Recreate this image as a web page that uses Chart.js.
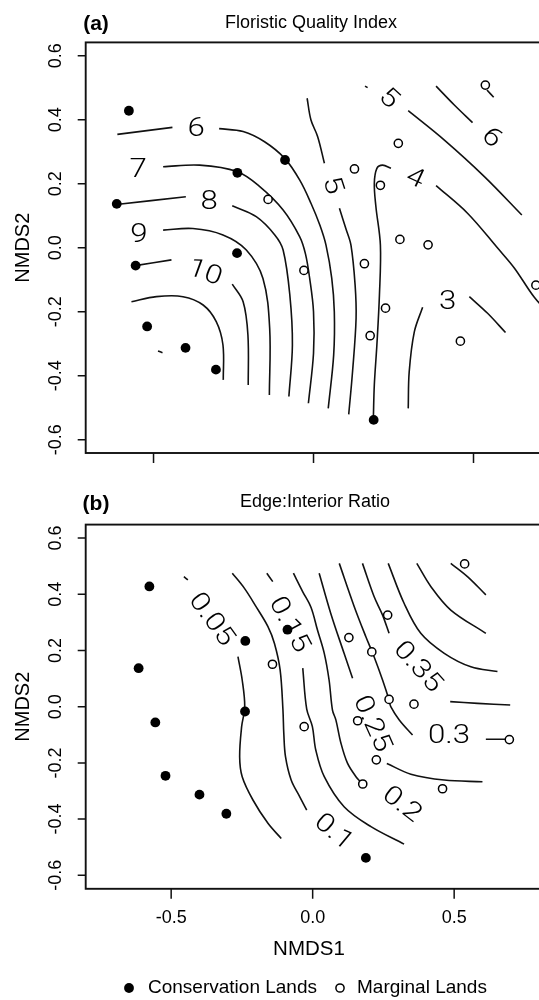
<!DOCTYPE html>
<html><head><meta charset="utf-8">
<script src="https://cdn.jsdelivr.net/npm/chart.js@4.4.0/dist/chart.umd.min.js"></script>
<style>
html,body{margin:0;padding:0;background:#fff;overflow:hidden;width:539px;height:1000px;position:relative;}
#ca{position:absolute;left:0;top:0;}
#cb{position:absolute;left:0;top:470px;}
</style></head><body>
<canvas id="ca" width="600" height="470"></canvas>
<canvas id="cb" width="600" height="530"></canvas>
<script>
// ---------- data ----------
const consX = [-0.577,-0.615,-0.238,-0.089,-0.239,-0.556,-0.520,-0.400,-0.305,0.188];
const consY = [0.428,0.137,0.234,0.274,-0.017,-0.056,-0.246,-0.313,-0.381,-0.538];
const margX = [-0.142,-0.030,0.265,0.128,0.209,0.270,0.358,0.537,0.159,0.225,0.177,0.459,0.695];
const margY = [0.151,-0.071,0.326,0.246,0.195,0.026,0.009,0.508,-0.050,-0.189,-0.275,-0.292,-0.117];
const yTicks = [-0.6,-0.4,-0.2,0.0,0.2,0.4,0.6];
const yTickLabels = ['-0.6','-0.4','-0.2','0.0','0.2','0.4','0.6'];
const xTicks = [-0.5,0.0,0.5];
const xTickLabels = ['-0.5','0.0','0.5'];
const seriesNames = ['Conservation Lands','Marginal Lands'];

// Floristic Quality Index contours (segments of [NMDS1, NMDS2])
const fqi3 = [[[0.296,-0.502],[0.299,-0.388],[0.315,-0.263],[0.341,-0.186]],
              [[0.487,-0.153],[0.544,-0.205],[0.600,-0.265]]];
const fqi4 = [[[0.187,-0.533],[0.190,-0.429],[0.198,-0.304],[0.206,-0.148],[0.209,0.008],[0.195,0.128],[0.190,0.201],[0.198,0.248],[0.216,0.258],[0.242,0.248]],
              [[0.383,0.194],[0.482,0.107],[0.576,-0.002],[0.628,-0.064],[0.690,-0.155],[0.75,-0.22]]];
const fqi5 = [[[-0.020,0.467],[-0.008,0.399],[0.013,0.347],[0.034,0.264]],
              [[0.081,0.123],[0.101,0.060],[0.117,0.008],[0.130,-0.117],[0.133,-0.221],[0.122,-0.387],[0.110,-0.521]],
              [[0.161,0.505],[0.169,0.500]],
              [[0.296,0.428],[0.409,0.336],[0.534,0.222],[0.651,0.102]]];
const fqi6 = [[[-0.613,0.354],[-0.441,0.376]],
              [[-0.295,0.372],[-0.220,0.363],[-0.153,0.331],[-0.090,0.279],[-0.043,0.211],[-0.008,0.139],[0.020,0.070],[0.039,0.008],[0.057,-0.096],[0.065,-0.200],[0.063,-0.335],[0.046,-0.502]],
              [[0.383,0.505],[0.440,0.446],[0.497,0.391]]];
const fqi7 = [[[-0.470,0.253],[-0.356,0.258],[-0.239,0.238],[-0.168,0.191],[-0.095,0.118],[-0.043,0.034],[-0.025,-0.020],[-0.012,-0.096],[0.000,-0.200],[0.000,-0.330],[-0.016,-0.486]],
              [[0.542,0.493],[0.563,0.470]]];
const fqi8 = [[[-0.616,0.135],[-0.399,0.159]],
              [[-0.254,0.131],[-0.179,0.097],[-0.121,0.040],[-0.095,-0.007],[-0.074,-0.148],[-0.066,-0.304],[-0.077,-0.465]]];
const fqi9 = [[[-0.470,0.055],[-0.377,0.060],[-0.283,0.040],[-0.210,-0.007],[-0.158,-0.096],[-0.137,-0.252],[-0.138,-0.460]]];
const fqi10 = [[[-0.557,-0.056],[-0.444,-0.038]],
               [[-0.254,-0.114],[-0.220,-0.169],[-0.205,-0.273],[-0.204,-0.429]]];
const fqi11 = [[[-0.569,-0.169],[-0.491,-0.153],[-0.408,-0.153],[-0.345,-0.179],[-0.304,-0.231],[-0.283,-0.304],[-0.282,-0.413]],
               [[-0.486,-0.323],[-0.472,-0.328]]];
const fqiLabelText = ['6','7','8','9','10','5','5','6','4','3'];
const fqiLabelX = [-0.367,-0.548,-0.326,-0.546,-0.340,0.057,0.234,0.555,0.317,0.419];
const fqiLabelY = [0.369,0.241,0.141,0.038,-0.080,0.194,0.465,0.342,0.215,-0.171];
const fqiLabelRot = [0,0,0,0,20,72,42,45,25,0];

// Edge:Interior Ratio contours
const eir05 = [[[-0.455,0.463],[-0.441,0.451]],
               [[-0.264,0.178],[-0.249,0.095],[-0.240,0.000],[-0.251,-0.071],[-0.258,-0.178],[-0.249,-0.249],[-0.211,-0.332],[-0.158,-0.415],[-0.111,-0.469]]];
const eir10 = [[[-0.284,0.475],[-0.241,0.421],[-0.200,0.356],[-0.158,0.285],[-0.135,0.225],[-0.115,0.131],[-0.105,-0.012],[-0.102,-0.095],[-0.096,-0.178],[-0.076,-0.261],[-0.046,-0.320],[-0.021,-0.368]]];
const eir15 = [[[-0.162,0.475],[-0.141,0.445]],
               [[-0.035,0.137],[-0.021,-0.009],[-0.001,-0.071],[0.011,-0.154],[0.041,-0.249],[0.111,-0.356],[0.206,-0.427],[0.323,-0.489]]];
const eir20 = [[[-0.068,0.475],[-0.035,0.409],[-0.006,0.354],[0.017,0.273],[0.041,0.190],[0.058,0.095],[0.070,-0.012],[0.082,-0.047],[0.100,-0.130],[0.123,-0.201],[0.153,-0.249],[0.176,-0.275]]];
const eir25 = [[[0.023,0.475],[0.064,0.332],[0.111,0.190],[0.141,0.101]],
               [[0.262,-0.202],[0.347,-0.240],[0.465,-0.261],[0.600,-0.267]]];
const eir30 = [[[0.094,0.510],[0.147,0.356],[0.188,0.249],[0.217,0.178],[0.247,0.095],[0.270,0.024],[0.276,0.000],[0.306,-0.047],[0.353,-0.101]],
               [[0.612,-0.116],[0.698,-0.116]]];
const eir35 = [[[0.176,0.510],[0.217,0.392],[0.247,0.326],[0.270,0.261]],
               [[0.486,0.018],[0.583,0.012],[0.698,0.006]]];
const eir40 = [[[0.267,0.510],[0.323,0.368],[0.382,0.261],[0.465,0.190],[0.559,0.142],[0.653,0.125]]];
const eir45 = [[[0.368,0.510],[0.418,0.427],[0.488,0.344],[0.612,0.261]]];
const eir50 = [[[0.488,0.510],[0.547,0.463],[0.612,0.398]]];
const eirLabelText = ['0.05','0.1','0.15','0.2','0.25','0.3','0.35'];
const eirLabelX = [-0.359,0.073,-0.085,0.314,0.208,0.482,0.370];
const eirLabelY = [0.309,-0.448,0.291,-0.350,-0.062,-0.107,0.140];
const eirLabelRot = [54,40,62,38,66,0,48];

// ---------- helpers ----------
const SANS = "'Liberation Sans', Arial, Helvetica, sans-serif";
const LABFONT = "300 26px Roboto, 'Liberation Sans', sans-serif";
const INK = '#111';
function txt(ctx, s, x, y, font, angle, align, sx){
  ctx.save(); ctx.font = font; ctx.translate(x, y); ctx.rotate((angle||0)*Math.PI/180);
  ctx.scale(sx||1, 1); ctx.textAlign = align||'center'; ctx.textBaseline = 'middle';
  ctx.fillText(s, 0, 0); ctx.restore();
}
function toPts(xs, ys){ return xs.map((v,i)=>({x:v, y:ys[i]})); }
function lineSets(levels){
  const out = [];
  levels.forEach(segs => segs.forEach(seg => out.push({
    data: seg.map(p=>({x:p[0], y:p[1]})), showLine:true, pointRadius:0, pointHoverRadius:0,
    borderColor:INK, borderWidth:1.6, tension:0.35, fill:false, order:2
  })));
  return out;
}
function pointSets(){
  return [
    {label:seriesNames[0], data:toPts(consX,consY), showLine:false, pointRadius:4.9, pointBackgroundColor:'#000', pointBorderColor:'#000', pointBorderWidth:0, order:0},
    {label:seriesNames[1], data:toPts(margX,margY), showLine:false, pointRadius:4.1, pointBackgroundColor:'#fff', pointBorderColor:'#000', pointBorderWidth:1.5, order:0}
  ];
}
function decor(cfg){
  return { id:'decor', afterDraw(chart){
    const ctx = chart.ctx, a = chart.chartArea, xs = chart.scales.x, ys = chart.scales.y;
    ctx.save();
    ctx.strokeStyle = INK; ctx.lineWidth = 1.9;
    ctx.strokeRect(a.left, a.top, a.right-a.left, a.bottom-a.top);
    ctx.lineWidth = 1.5; ctx.beginPath();
    yTicks.forEach(v=>{ const p = ys.getPixelForValue(v); ctx.moveTo(a.left-8, p); ctx.lineTo(a.left, p); });
    xTicks.forEach(v=>{ const p = xs.getPixelForValue(v); ctx.moveTo(p, a.bottom); ctx.lineTo(p, a.bottom+10); });
    ctx.stroke();
    ctx.fillStyle = '#000';
    yTicks.forEach((v,i)=>txt(ctx, yTickLabels[i], 56, ys.getPixelForValue(v), '18px '+SANS, -90));
    if (cfg.xLabelY) {
      xTicks.forEach((v,i)=>txt(ctx, xTickLabels[i], xs.getPixelForValue(v), cfg.xLabelY, '18px '+SANS, 0));
      txt(ctx, 'NMDS1', 309, cfg.xTitleY, '20.5px '+SANS, 0);
    }
    txt(ctx, 'NMDS2', 23, (a.top+a.bottom)/2, '20px '+SANS, -90);
    txt(ctx, cfg.tag, 96, cfg.tagY, 'bold 21px '+SANS, 0);
    txt(ctx, cfg.title, cfg.titleX, cfg.titleY, '18px '+SANS, 0);
    // contour labels
    cfg.lt.forEach((s,i)=>txt(ctx, s, xs.getPixelForValue(cfg.lx[i]), ys.getPixelForValue(cfg.ly[i]), LABFONT, cfg.lr[i], 'center', 1.2));
    if (cfg.legendY) {
      const ly = cfg.legendY;
      ctx.beginPath(); ctx.arc(129, ly, 4.9, 0, Math.PI*2); ctx.fillStyle='#000'; ctx.fill();
      ctx.beginPath(); ctx.arc(340, ly, 4.1, 0, Math.PI*2); ctx.fillStyle='#fff'; ctx.fill();
      ctx.lineWidth = 1.5; ctx.strokeStyle = '#000'; ctx.stroke();
      ctx.fillStyle = '#000';
      txt(ctx, seriesNames[0], 148, ly, '19px '+SANS, 0, 'left');
      txt(ctx, seriesNames[1], 357, ly, '19px '+SANS, 0, 'left');
    }
    ctx.restore();
  }};
}
const baseOpts = (pad, xr, yr) => ({
  responsive:false, animation:false, events:[],
  layout:{padding:pad},
  scales:{ x:{type:'linear', min:xr[0], max:xr[1], display:false},
           y:{type:'linear', min:yr[0], max:yr[1], display:false} },
  plugins:{ legend:{display:false}, tooltip:{enabled:false} }
});

// ---------- panel (a) ----------
new Chart(document.getElementById('ca'), {
  type:'scatter',
  data:{ datasets:[...lineSets([fqi3,fqi4,fqi5,fqi6,fqi7,fqi8,fqi9,fqi10,fqi11]), ...pointSets()] },
  options: baseOpts({left:85.7, top:42.4, right:600-563.1, bottom:470-453}, [-0.712,0.78], [-0.6415,0.6415]),
  plugins:[decor({tag:'(a)', tagY:24, title:'Floristic Quality Index', titleX:311, titleY:23.5,
                  lt:fqiLabelText, lx:fqiLabelX, ly:fqiLabelY, lr:fqiLabelRot})]
});

// ---------- panel (b) ----------
new Chart(document.getElementById('cb'), {
  type:'scatter',
  data:{ datasets:[...lineSets([eir05,eir10,eir15,eir20,eir25,eir30,eir35,eir40,eir45,eir50]), ...pointSets()] },
  options: baseOpts({left:85.7, top:54.6, right:600-561.7, bottom:530-418.8}, [-0.802,0.88], [-0.648,0.648]),
  plugins:[decor({tag:'(b)', tagY:34, title:'Edge:Interior Ratio', titleX:315, titleY:32.5,
                  xLabelY:448, xTitleY:479, legendY:518,
                  lt:eirLabelText, lx:eirLabelX, ly:eirLabelY, lr:eirLabelRot})]
});
</script></body></html>
